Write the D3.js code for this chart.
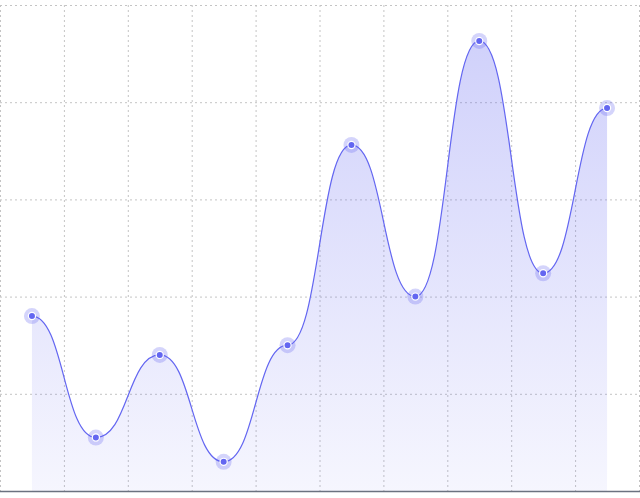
<!DOCTYPE html>
<html>
<head>
<meta charset="utf-8">
<script src="https://cdn.jsdelivr.net/npm/d3@7"></script>
<style>
  html, body { margin: 0; padding: 0; background: #fff; }
  .grid line { stroke: #c4c4c4; stroke-dasharray: 2,3; }
  .grid path { display: none; }
</style>
</head>
<body>
<div id="chart"></div>
<script>
var categories = ["1", "2", "3", "4", "5", "6", "7", "8", "9", "10"];
var values = [18, 5.5, 14, 3, 15, 35.6, 20, 46.3, 22.4, 39.4];
var yTicks = [0, 10, 20, 30, 40, 50];

var margin = {top: 5, right: 1, bottom: 7, left: 0};
var width = 640 - margin.left - margin.right;
var height = 498 - margin.top - margin.bottom;

var svg = d3.select("#chart").append("svg")
    .attr("width", 640)
    .attr("height", 498)
    .append("g")
    .attr("transform", "translate(" + margin.left + "," + margin.top + ")");

var defs = svg.append("defs");
var grad = defs.append("linearGradient")
    .attr("id", "areaGrad")
    .attr("x1", 0).attr("y1", 0).attr("x2", 0).attr("y2", 1);
grad.append("stop").attr("offset", "0%").attr("stop-color", "#6366f1").attr("stop-opacity", 0.3);
grad.append("stop").attr("offset", "100%").attr("stop-color", "#6366f1").attr("stop-opacity", 0.06);

var xScale = d3.scaleBand().domain(categories).range([0, width]);
var yScale = d3.scaleLinear().domain([0, 50]).range([height, 0]);
var cx = function(d, i) { return xScale(categories[i]) + xScale.bandwidth() / 2; };

// horizontal grid
svg.append("g").attr("class", "grid")
    .call(d3.axisLeft(yScale).tickValues(yTicks).tickSize(-width).tickFormat(""));

// vertical grid at band edges
var edges = categories.map(function(c) { return xScale(c); }).concat([width]);
svg.append("g").attr("class", "grid")
    .selectAll("line").data(edges).enter().append("line")
    .attr("x1", function(d) { return d + 0.5; })
    .attr("x2", function(d) { return d + 0.5; })
    .attr("y1", 0).attr("y2", height);

// area
svg.append("path")
    .datum(values)
    .attr("fill", "url(#areaGrad)")
    .attr("d", d3.area()
        .curve(d3.curveBumpX)
        .x(cx)
        .y0(height)
        .y1(function(d) { return yScale(d); }));

// line
svg.append("path")
    .datum(values)
    .attr("fill", "none")
    .attr("stroke", "#6366f1")
    .attr("stroke-width", 1.2)
    .attr("d", d3.line()
        .curve(d3.curveBumpX)
        .x(cx)
        .y(function(d) { return yScale(d); }));

// bottom axis line
svg.append("line")
    .attr("x1", 0).attr("x2", 640)
    .attr("y1", height + 0.5).attr("y2", height + 0.5)
    .attr("stroke", "#6b7280").attr("stroke-width", 1.5);

// points
var pts = svg.append("g").selectAll("g").data(values).enter().append("g");
pts.append("circle")
    .attr("cx", cx).attr("cy", function(d) { return yScale(d); })
    .attr("r", 8).attr("fill", "#6366f1").attr("fill-opacity", 0.28);
pts.append("circle")
    .attr("cx", cx).attr("cy", function(d) { return yScale(d); })
    .attr("r", 3.6).attr("fill", "#6366f1")
    .attr("stroke", "#fff").attr("stroke-width", 1.2);
</script>
</body>
</html>
